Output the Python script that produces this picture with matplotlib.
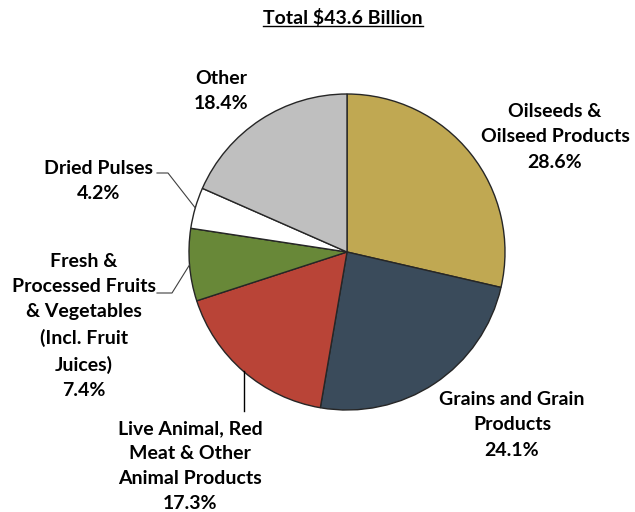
import matplotlib
matplotlib.use("Agg")
import matplotlib.pyplot as plt
import numpy as np

categories = ["Oilseeds &\nOilseed Products", "Grains and Grain\nProducts",
              "Live Animal, Red\nMeat & Other\nAnimal Products",
              "Fresh &\nProcessed Fruits\n& Vegetables\n(Incl. Fruit\nJuices)",
              "Dried Pulses", "Other"]
shares = [28.6, 24.1, 17.3, 7.4, 4.2, 18.4]
colors = ["#C0A852", "#3A4B5B", "#B94437", "#688838", "#FFFFFF", "#BFBFBF"]
title = "Total $43.6 Billion"

W, H = 635, 512
plt.rcParams['font.family'] = ['Lato', 'DejaVu Sans']
plt.rcParams['font.weight'] = 'bold'

fig = plt.figure(figsize=(W / 100, H / 100), dpi=100)
ax = fig.add_axes([0, 0, 1, 1])

cx, cy, r = 347, H - 252, 158
wedges, _ = ax.pie(shares, colors=colors, startangle=90, counterclock=False,
                   center=(cx, cy), radius=r, frame=True,
                   wedgeprops=dict(edgecolor="#262626", linewidth=1.0))
ax.set_xlim(0, W)
ax.set_ylim(0, H)
ax.axis('off')

fs = 14


def put(x, y, s, **kw):
    ax.text(x, H - y, s, ha='center', va='center', multialignment='center',
            fontsize=fs, fontweight='bold', linespacing=1.58, color='black', **kw)


def edge_point(w):
    a = np.deg2rad((w.theta1 + w.theta2) / 2)
    return cx + r * np.cos(a), cy + r * np.sin(a)


labels = [f"{c}\n{v:.1f}%" for c, v in zip(categories, shares)]
put(555, 137, labels[0])
put(512, 425, labels[1])
put(190, 466, labels[2])
put(84, 326, labels[3])
put(99, 181, labels[4])
put(221, 91, labels[5])

# leader lines
ex, ey = edge_point(wedges[4])
ax.plot([157, 168, ex], [H - 173, H - 173, ey], color="#404040", lw=0.8)
ex, ey = edge_point(wedges[3])
ax.plot([157, 172, ex], [H - 293, H - 293, ey], color="#404040", lw=0.8)
ex, ey = edge_point(wedges[2])
ax.plot([ex, ex], [ey, H - 411], color="black", lw=1.0)

# underlined title
t = ax.text(343, H - 18, title, ha='center', va='center', fontsize=fs, fontweight='bold')
fig.canvas.draw()
bb = t.get_window_extent().transformed(ax.transData.inverted())
ax.plot([bb.x0, bb.x1], [bb.y0 + 1, bb.y0 + 1], color='black', lw=1.0)

fig.savefig("out.png", dpi=100)
